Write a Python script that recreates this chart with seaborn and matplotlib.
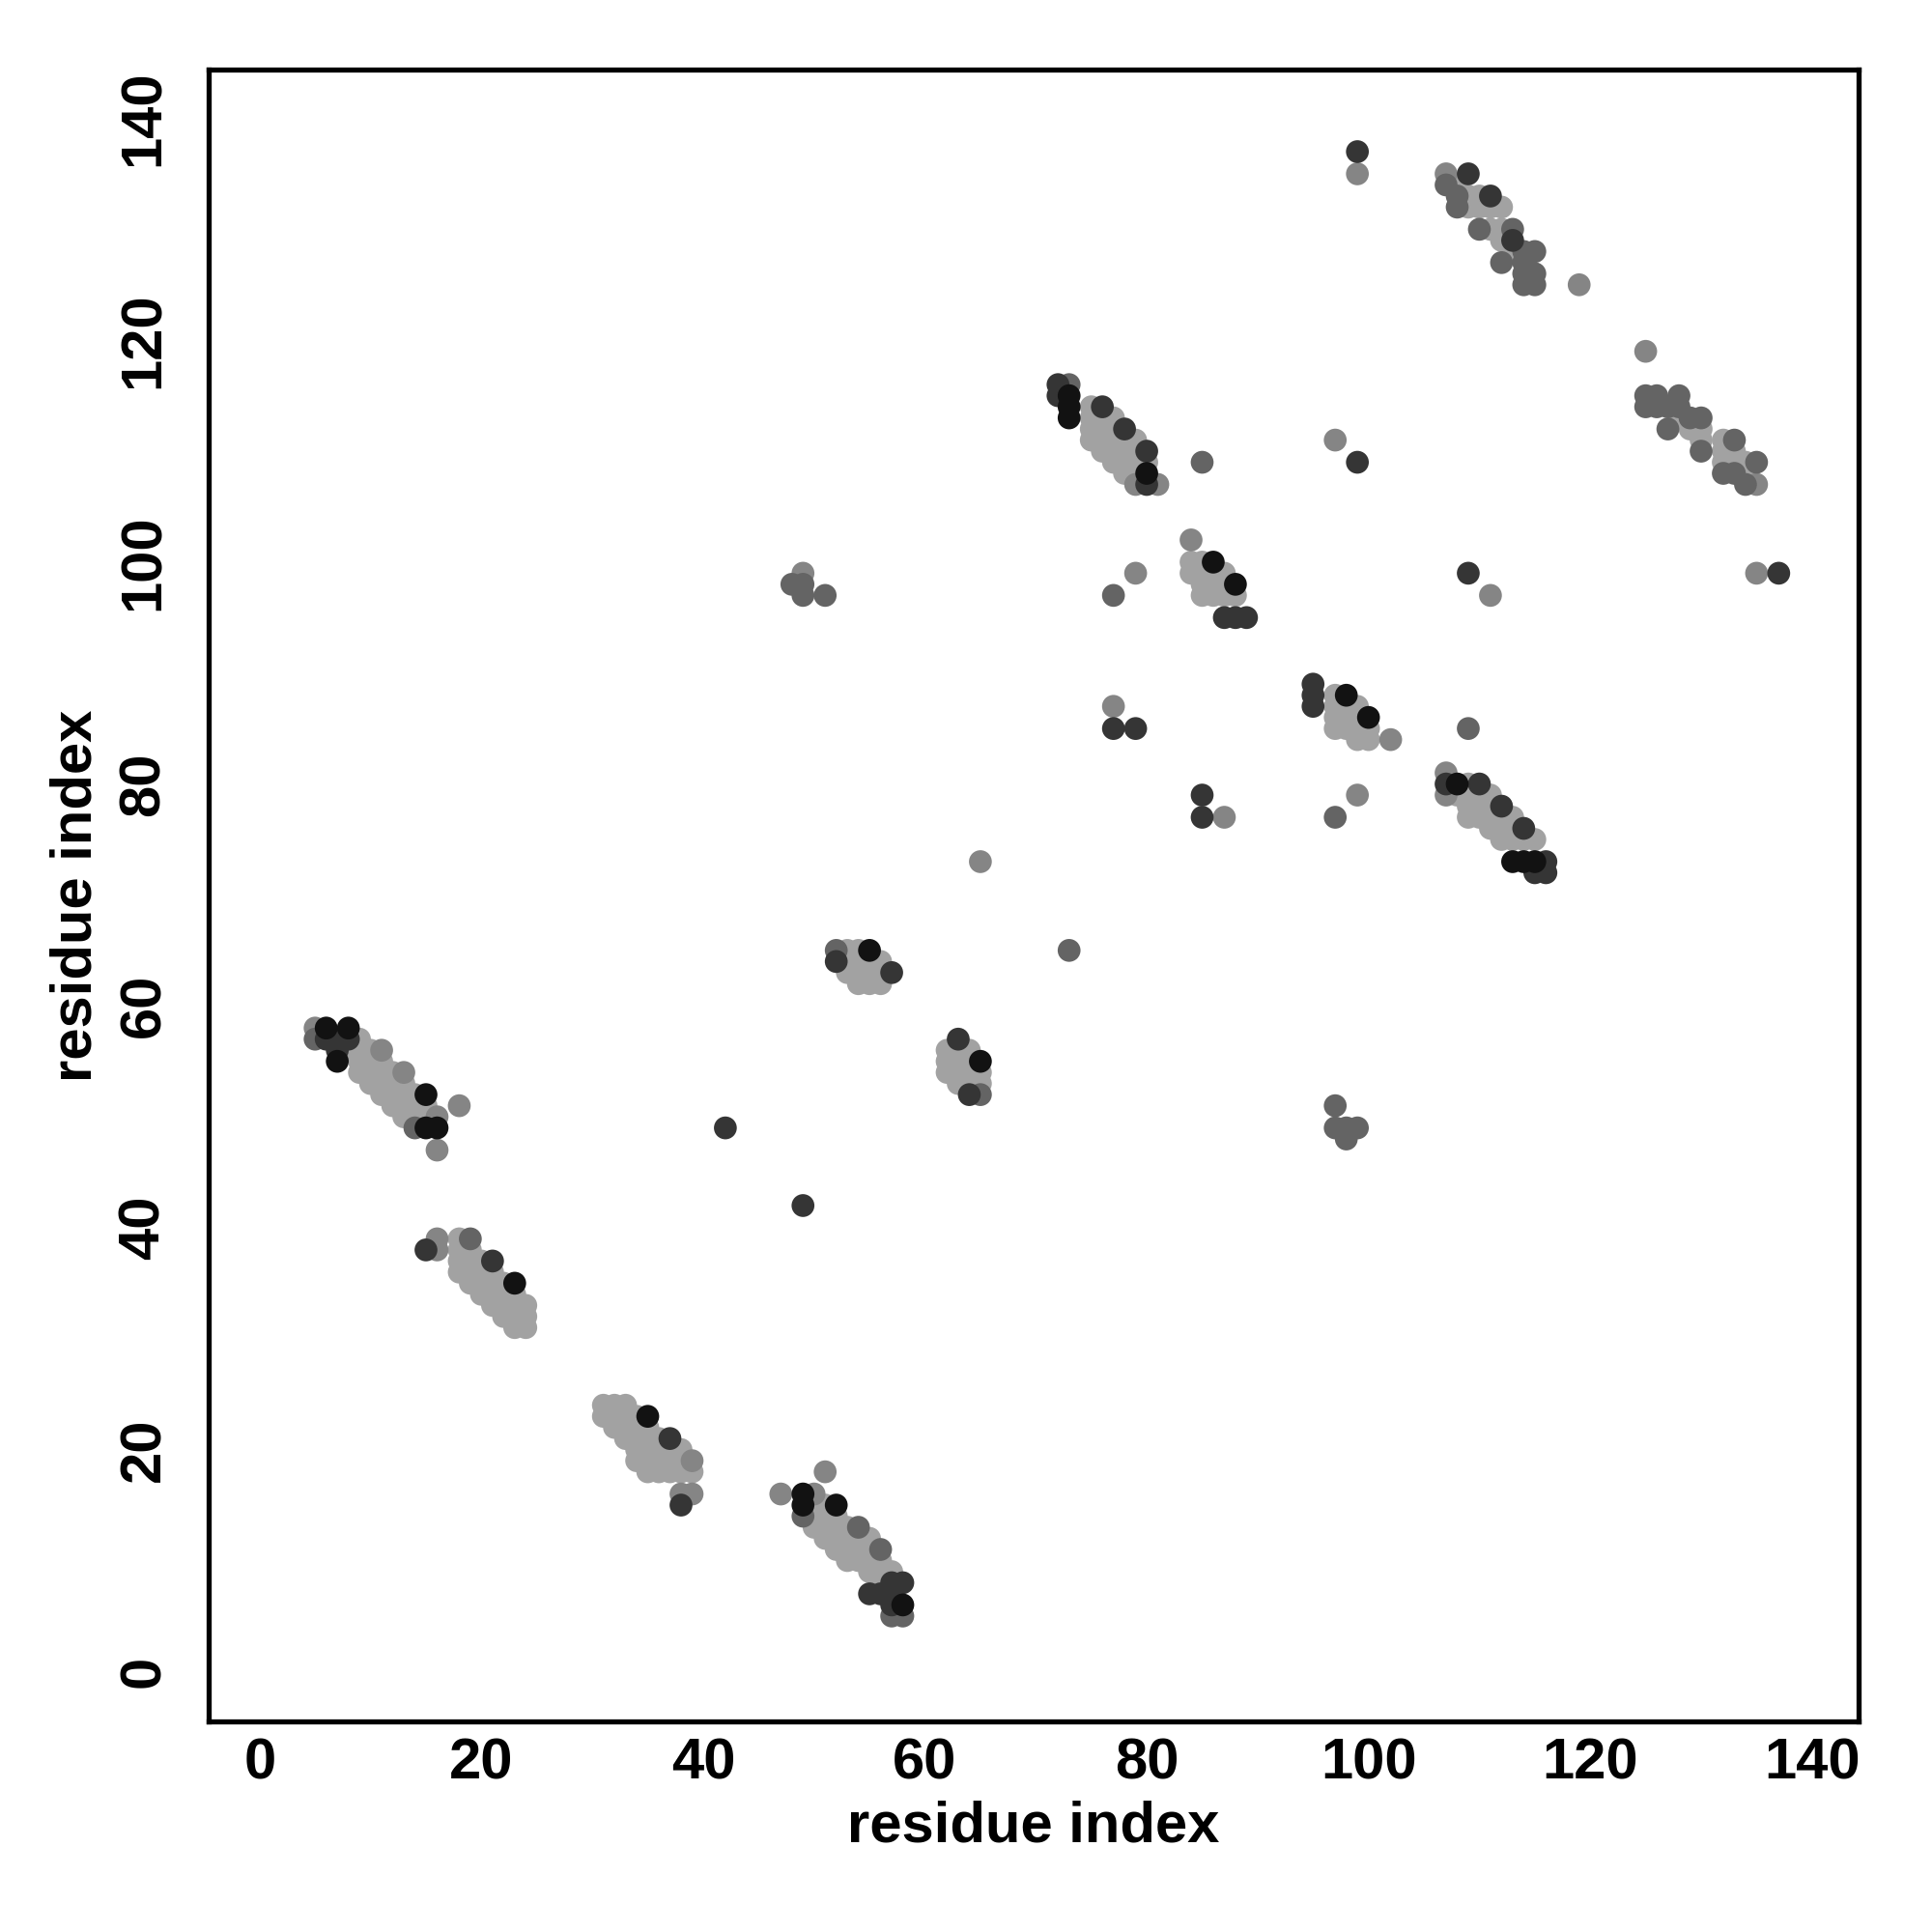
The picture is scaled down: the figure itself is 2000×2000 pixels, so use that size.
import pandas as pd
import matplotlib.pyplot as plt
import seaborn as sns

# -----------------------------
# Contact points, grouped by grey level
# -----------------------------
light_pts = [
    (8, 56), (9, 54), (9, 55), (9, 56), (9, 57), (10, 53), (10, 54), (10, 55), (10, 56),
    (11, 52), (11, 53), (11, 54), (11, 55), (12, 51), (12, 52), (12, 53), (12, 54),
    (13, 50), (13, 51), (13, 52), (13, 53), (14, 50), (14, 51), (14, 52), (15, 50), (15, 51),
    (18, 36), (18, 37), (18, 38), (18, 39), (19, 35), (19, 36), (19, 37), (19, 38),
    (20, 34), (20, 35), (20, 36), (20, 37), (21, 33), (21, 34), (21, 35), (21, 36),
    (22, 32), (22, 33), (22, 34), (22, 35), (23, 31), (23, 32), (23, 33), (23, 34),
    (24, 31), (24, 32), (24, 33),
    (31, 23), (31, 24), (32, 22), (32, 23), (32, 24), (33, 21), (33, 22), (33, 23), (33, 24),
    (34, 19), (34, 20), (34, 21), (34, 22), (34, 23), (35, 18), (35, 19), (35, 20), (35, 21),
    (35, 22), (36, 18), (36, 19), (36, 20), (36, 21), (37, 18), (37, 19), (37, 20),
    (38, 18), (38, 19), (38, 20), (39, 18),
    (50, 13), (50, 14), (50, 15), (51, 12), (51, 13), (51, 14), (51, 15), (52, 11), (52, 12),
    (52, 13), (52, 14), (53, 10), (53, 11), (53, 12), (53, 13), (54, 10), (54, 11), (54, 12),
    (55, 9), (55, 10), (55, 11), (55, 12), (56, 8), (56, 9), (56, 10), (57, 8), (57, 9),
    (53, 65), (54, 65), (53, 64), (54, 64), (55, 64), (56, 64), (53, 63), (54, 63), (55, 63),
    (56, 63), (54, 62), (55, 62), (56, 62),
    (62, 56), (62, 55), (62, 54), (63, 56), (63, 55), (63, 54), (63, 53), (64, 56), (64, 55),
    (64, 54), (64, 53), (65, 54), (65, 53),
    (75, 111), (75, 112), (75, 113), (75, 114), (76, 110), (76, 111), (76, 112), (76, 113),
    (77, 109), (77, 110), (77, 111), (77, 112), (77, 113), (78, 108), (78, 109), (78, 110),
    (78, 111), (79, 108), (79, 109), (79, 110), (79, 111), (80, 109),
    (84, 100), (84, 99), (85, 100), (85, 99), (85, 98), (85, 97), (86, 99), (86, 98), (86, 97),
    (87, 99), (87, 98), (87, 97), (88, 97),
    (97, 88), (97, 87), (97, 86), (97, 85), (98, 87), (98, 86), (98, 85), (99, 87), (99, 86),
    (99, 85), (99, 84), (100, 85), (100, 84),
    (108, 79), (109, 77), (109, 78), (109, 79), (109, 80), (110, 77), (110, 78), (110, 79),
    (111, 76), (111, 77), (111, 78), (111, 79), (112, 75), (112, 76), (112, 77), (113, 75),
    (113, 76), (113, 77), (114, 75), (115, 75),
    (108, 134), (109, 133), (110, 133), (109, 132), (110, 132), (111, 132), (112, 132),
    (111, 130), (112, 130), (112, 129), (113, 128),
    (128, 113), (129, 112), (130, 112), (130, 111), (132, 111), (132, 110), (132, 109),
    (133, 110), (133, 109), (134, 109), (134, 108),
]

mid_pts = [
    (5, 58), (11, 56), (13, 54), (16, 50), (18, 51), (16, 47), (16, 39), (16, 38),
    (38, 16), (39, 16), (39, 19), (51, 18), (47, 16), (50, 16), (65, 73), (77, 87),
    (79, 99), (97, 111), (99, 135), (99, 79), (111, 97), (119, 125), (125, 119),
    (135, 99), (102, 84), (84, 102), (81, 107), (79, 107), (87, 77), (107, 81),
    (107, 79), (107, 135), (135, 107), (49, 99),
]

grey_pts = [
    (5, 57), (14, 49), (19, 39), (49, 14), (54, 13), (56, 11), (57, 5), (58, 5),
    (52, 65), (65, 52), (73, 65), (48, 98), (49, 97), (51, 97), (49, 98), (77, 97),
    (85, 109), (97, 77), (97, 51), (97, 49), (98, 48), (99, 49), (98, 49), (109, 85),
    (107, 134), (108, 133), (108, 132), (110, 130), (113, 130), (112, 127), (114, 128),
    (115, 128), (114, 127), (114, 126), (115, 126), (114, 125), (115, 125),
    (125, 115), (126, 115), (128, 115), (125, 114), (126, 114), (127, 114), (128, 114),
    (127, 112), (129, 113), (130, 113), (130, 110), (133, 111), (132, 108), (133, 108),
    (134, 107), (135, 109), (73, 116),
]

dark_pts = [
    (7, 57), (8, 57), (6, 57), (7, 56), (15, 38), (21, 37), (37, 21), (38, 15),
    (58, 8), (55, 7), (56, 7), (57, 7), (57, 8), (57, 6), (52, 64), (57, 63), (63, 57),
    (64, 52), (42, 49), (49, 42), (79, 85), (77, 85), (85, 79), (85, 77), (99, 109),
    (99, 137), (109, 99), (137, 99), (72, 116), (72, 115), (76, 114), (78, 112),
    (80, 110), (80, 107), (87, 95), (88, 95), (89, 95), (95, 89), (95, 88), (95, 87),
    (107, 80), (110, 80), (112, 78), (114, 76), (116, 73), (115, 72), (116, 72),
    (109, 135), (111, 133), (113, 129),
]

black_pts = [
    (6, 58), (8, 58), (7, 55), (15, 52), (15, 49), (16, 49), (23, 35), (35, 23),
    (49, 16), (49, 15), (52, 15), (58, 6), (55, 65), (65, 55), (73, 115), (73, 114),
    (73, 113), (80, 108), (86, 100), (88, 98), (98, 88), (100, 86), (108, 80),
    (113, 73), (114, 73), (115, 73),
]

shade_colors = {"light": "#a2a2a2", "mid": "#858585", "grey": "#646464",
                "dark": "#353535", "black": "#121212"}

# -----------------------------
# Build table (light first so darker points sit on top)
# -----------------------------
frames = []
for name, pts in [("light", light_pts), ("mid", mid_pts), ("grey", grey_pts),
                  ("dark", dark_pts), ("black", black_pts)]:
    part = pd.DataFrame(pts, columns=["i", "j"])
    part["shade"] = name
    frames.append(part)
df = pd.concat(frames, ignore_index=True)

# -----------------------------
# Plot
# -----------------------------
sns.set_style("white")
plt.rcParams["font.family"] = ["Liberation Sans", "DejaVu Sans"]
plt.rcParams["font.weight"] = "bold"
plt.rcParams["text.color"] = "black"
plt.rcParams["axes.labelcolor"] = "black"

fig = plt.figure(figsize=(20, 20), dpi=100)
ax = fig.add_axes([0.108, 0.109, 0.854, 0.855])

sns.scatterplot(data=df, x="i", y="j", hue="shade", palette=shade_colors,
                s=290, linewidth=0, legend=False, ax=ax)

ax.set_xlim(-4.6, 144.2)
ax.set_ylim(-4.5, 144.4)
ax.set_xticks(range(0, 141, 20))
ax.set_yticks(range(0, 141, 20))

for side in ["top", "bottom", "left", "right"]:
    ax.spines[side].set_visible(True)
    ax.spines[side].set_color("black")
    ax.spines[side].set_linewidth(3.8)

ax.tick_params(axis="both", direction="out", length=10, width=2.6, colors="black",
               labelsize=43)
ax.tick_params(axis="x", pad=2)
ax.tick_params(axis="y", pad=18)
for lab in ax.get_yticklabels():
    lab.set_rotation(90)
    lab.set_va("center")
for lab in ax.get_xticklabels() + ax.get_yticklabels():
    lab.set_fontweight("bold")

ax.set_xlabel("residue index", fontsize=43, fontweight="bold", va="center", color="black")
ax.set_ylabel("residue index", fontsize=43, fontweight="bold", va="center", color="black")
ax.xaxis.set_label_coords(0.5, -0.064)
ax.yaxis.set_label_coords(-0.080, 0.5)

fig.savefig("out.png", dpi=100, facecolor="white")
